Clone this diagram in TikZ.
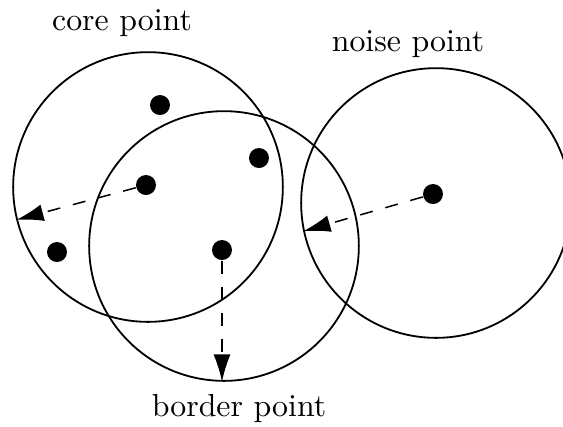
\documentclass[tikz,border=0pt]{standalone}
\usepackage{tikz}
\usetikzlibrary{positioning,arrows.meta}
\tikzset{
  ring/.style={circle,draw=black,line width=0.6pt,minimum size=89pt,inner sep=0pt},
  pt/.style={circle,fill=black,minimum size=6.6pt,inner sep=0pt},
  reach/.style={-{Latex[length=9pt,width=5.6pt]},dash pattern=on 4.3pt off 4.3pt,line width=0.5pt},
  lbl/.style={inner sep=0pt,font=\fontsize{10.5}{12}\selectfont}
}
\begin{document}
\begin{tikzpicture}[x=0.33pt,y=-0.33pt]
  \useasboundingbox (0,0) rectangle (563,426);
  % neighbourhoods
  \node[ring] (ringcore) at (148,187) {};
  \node[ring] (ringborder) at (224,246) {};
  \node[ring] (ringnoise) at (436,203) {};
  % points
  \node[pt] (p1) at (160,105) {};
  \node[pt] (p2) at (259,158) {};
  \node[pt] (core) at (146,185) {};
  \node[pt] (p4) at (57,252) {};
  \node[pt] (border) at (222,250) {};
  \node[pt] (noise) at (433,194) {};
  % radii
  \draw[reach] (core) -- (ringcore.194);
  \draw[reach] (border) -- (border |- ringborder.south);
  \draw[reach] (noise) -- (ringnoise.192);
  % labels
  \node[lbl] (tcore) at (122,23) {core point};
  \node[lbl] (tnoise) at (408,44) {noise point};
  \node[lbl] (tborder) at (239,409) {border point};
\end{tikzpicture}
\end{document}
